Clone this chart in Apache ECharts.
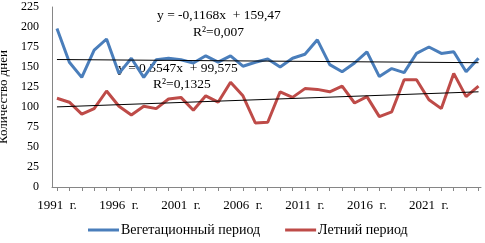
<!DOCTYPE html>
<html>
<head>
<meta charset="utf-8">
<script src="https://cdn.jsdelivr.net/npm/echarts@6/dist/echarts.min.js"></script>
<style>
  html, body { margin: 0; padding: 0; background: #fff; }
  #container { width: 485px; height: 243px; }
</style>
</head>
<body>
<div id="container"></div>
<script>
var myChart = echarts.init(document.getElementById('container'));

// годы наблюдений
var years = [];
for (var y = 1991; y <= 2025; y++) years.push(y);

// подписи оси X
var labelYears = [1991, 1996, 2001, 2006, 2011, 2016, 2021];

// количество дней
var vegPeriod = [198, 156, 137, 171, 185, 142, 161, 137, 159, 161, 159, 155, 164, 156, 164, 151, 156, 160,
    150, 161, 166, 184, 153, 144, 155, 169, 138, 148, 143, 167, 175, 167, 169, 144, 161];
var summerPeriod = [111, 106, 91, 98, 120, 101, 90, 101, 98, 110, 112, 96, 114, 106, 131, 114, 80, 81,
    119, 112, 123, 122, 119, 126, 105, 113, 88, 94, 134, 134, 109, 98, 142, 113, 126];

// линии тренда (коэффициенты с графика)
var vegTrend = [-0.1168, 159.47];
var summerTrend = [0.5547, 99.575];

var seriesNames = ['Вегетационный период', 'Летний период'];

function pairs(values) {
    return values.map(function (v, i) { return [years[i], v]; });
}
function trendLine(k) {
    var n = years.length;
    return [[years[0], k[0] * 1 + k[1]], [years[n - 1], k[0] * n + k[1]]];
}

var font = 'Liberation Serif';

var option = {
    animation: false,
    textStyle: { fontFamily: font },
    grid: { left: 52, right: 4, top: 7, bottom: 56, outerBoundsMode: 'none' },
    legend: {
        data: seriesNames,
        icon: 'rect',
        left: 83,
        bottom: 1,
        itemWidth: 31,
        itemHeight: 3,
        itemGap: 25,
        textStyle: { fontFamily: font, fontSize: 14, color: '#000', padding: [0, 0, 0, -3] }
    },
    xAxis: {
        type: 'value',
        min: 1990.6,
        max: 2025.2,
        splitLine: { show: false },
        axisLine: { show: true, lineStyle: { color: '#868686', width: 1 } },
        axisTick: { show: true, length: 4, lineStyle: { color: '#868686' }, customValues: years },
        axisLabel: {
            customValues: labelYears,
            formatter: function (v) { return v + '  г.'; },
            fontFamily: font, fontSize: 13, color: '#000', margin: 12
        }
    },
    yAxis: {
        type: 'value',
        min: 0,
        max: 225,
        interval: 25,
        name: 'Количество дней',
        nameLocation: 'middle',
        nameRotate: 90,
        nameGap: 34,
        nameTextStyle: { fontFamily: font, fontSize: 13, color: '#000' },
        splitLine: { show: false },
        axisLine: { show: true, lineStyle: { color: '#868686', width: 1 } },
        axisTick: { show: false },
        axisLabel: { fontFamily: font, fontSize: 12, color: '#000', margin: 13 }
    },
    graphic: [
        { type: 'text', left: 157, top: 8, style: { text: 'y = -0,1168x  + 159,47', font: '13.5px "Liberation Serif"', fill: '#000' } },
        { type: 'text', left: 193, top: 25, style: { text: 'R²=0,007', font: '13.5px "Liberation Serif"', fill: '#000' } },
        { type: 'text', left: 118, top: 61, style: { text: 'y = 0,5547x  + 99,575', font: '13.5px "Liberation Serif"', fill: '#000' } },
        { type: 'text', left: 153, top: 77, style: { text: 'R²=0,1325', font: '13.5px "Liberation Serif"', fill: '#000' } }
    ],
    series: [
        {
            name: seriesNames[0],
            type: 'line',
            symbol: 'none',
            data: pairs(vegPeriod),
            lineStyle: { color: '#4a7ebb', width: 3 },
            itemStyle: { color: '#4a7ebb' },
            z: 3
        },
        {
            name: seriesNames[1],
            type: 'line',
            symbol: 'none',
            data: pairs(summerPeriod),
            lineStyle: { color: '#be4b48', width: 3 },
            itemStyle: { color: '#be4b48' },
            z: 3
        },
        {
            name: 'trend1',
            type: 'line',
            symbol: 'none',
            data: trendLine(vegTrend),
            lineStyle: { color: '#000', width: 1 },
            silent: true,
            z: 4
        },
        {
            name: 'trend2',
            type: 'line',
            symbol: 'none',
            data: trendLine(summerTrend),
            lineStyle: { color: '#000', width: 1 },
            silent: true,
            z: 4
        }
    ]
};

myChart.setOption(option);
</script>
</body>
</html>
